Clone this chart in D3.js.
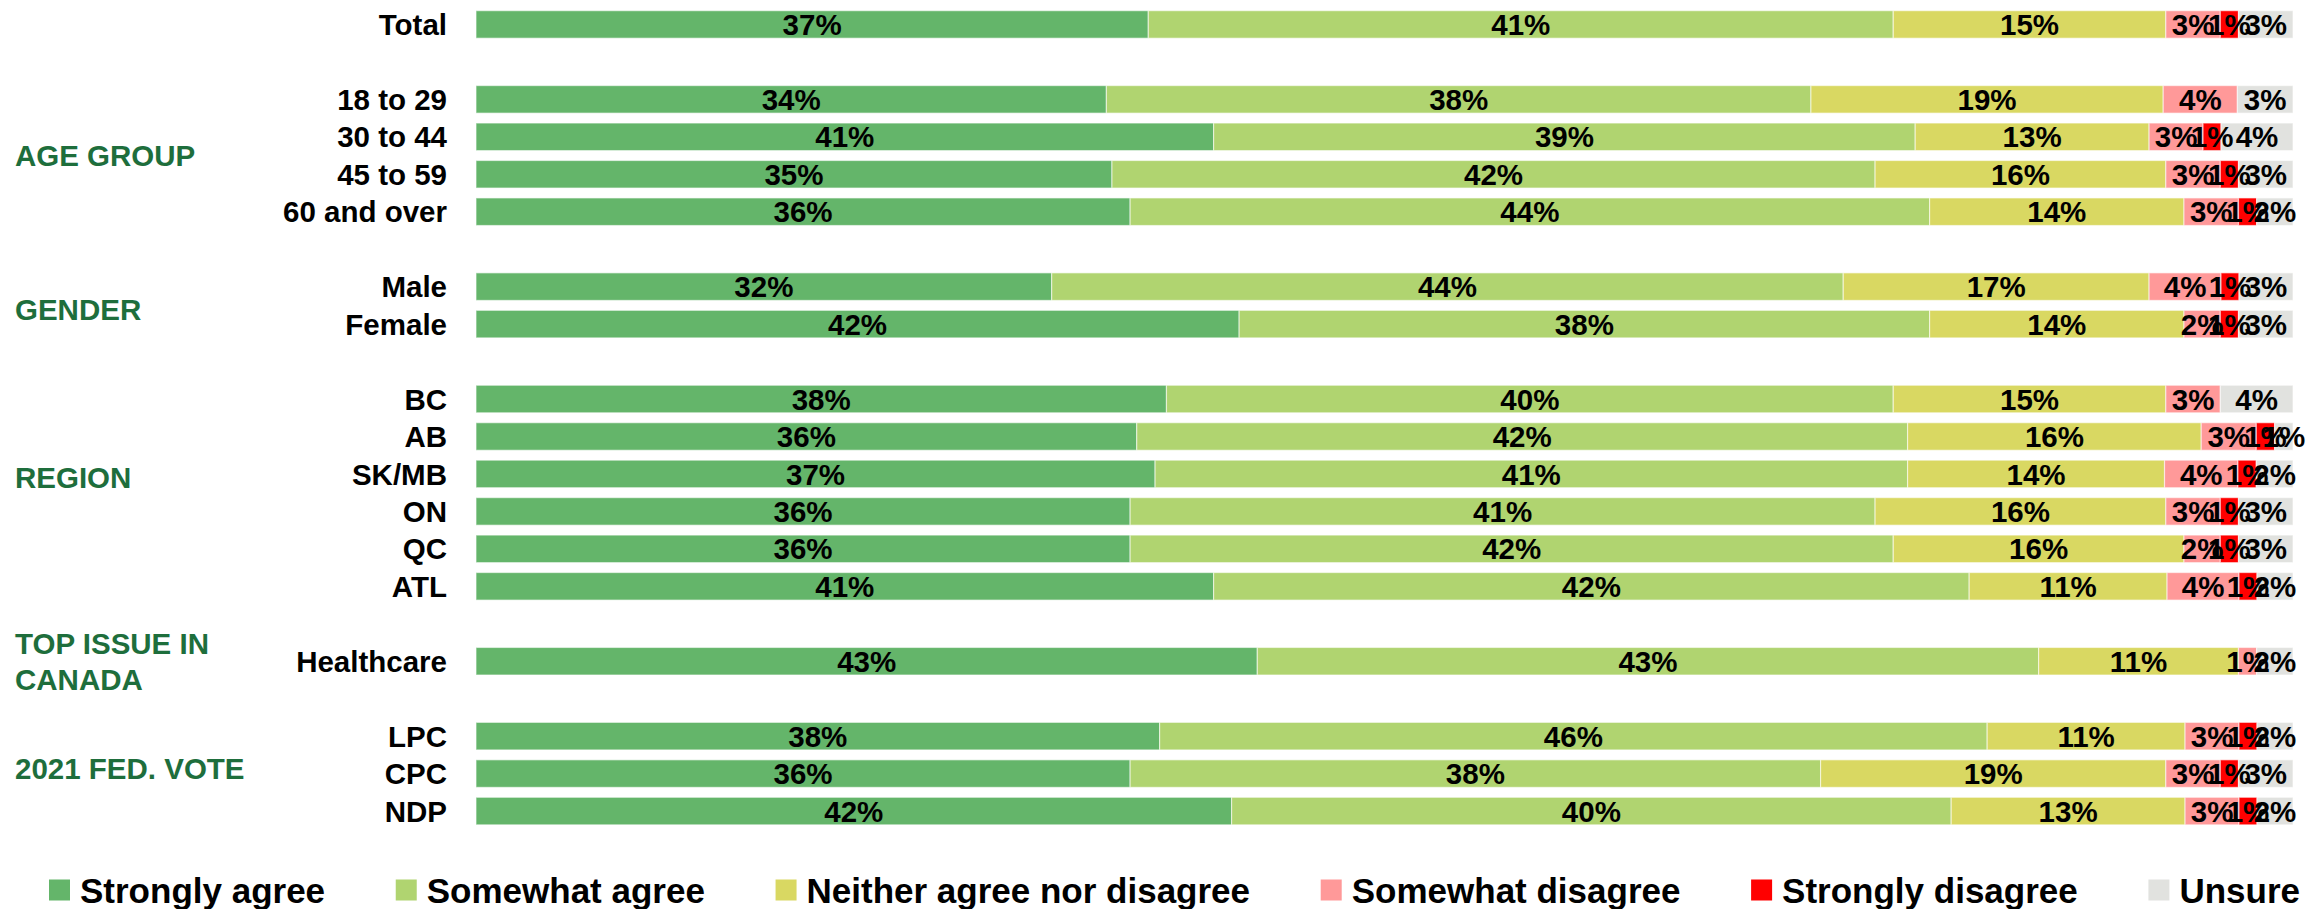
<!DOCTYPE html>
<html><head><meta charset="utf-8">
<script src="https://cdn.jsdelivr.net/npm/d3@7"></script>
<style>body{margin:0;background:#fff}svg{display:block}</style>
</head><body>
<svg id="chart" width="2321" height="909"></svg>
<script>
// ---- data ----
const seriesNames = ["Strongly agree","Somewhat agree","Neither agree nor disagree","Somewhat disagree","Strongly disagree","Unsure"];
const seriesColors = ["#64B56A","#B0D470","#D9D862","#FF9999","#FF0000","#E1E2DF"];
// rows in display order; null = spacer slot
const rowLabels = ["Total",null,"18 to 29","30 to 44","45 to 59","60 and over",null,"Male","Female",null,"BC","AB","SK/MB","ON","QC","ATL",null,"Healthcare",null,"LPC","CPC","NDP"];
const stronglyAgree   = [37,null,34,41,35,36,null,32,42,null,38,36,37,36,36,41,null,43,null,38,36,42];
const somewhatAgree   = [41,null,38,39,42,44,null,44,38,null,40,42,41,41,42,42,null,43,null,46,38,40];
const neither         = [15,null,19,13,16,14,null,17,14,null,15,16,14,16,16,11,null,11,null,11,19,13];
const somewhatDisagree= [3,null,4,3,3,3,null,4,2,null,3,3,4,3,2,4,null,1,null,3,3,3];
const stronglyDisagree= [1,null,0,1,1,1,null,1,1,null,0,1,1,1,1,1,null,0,null,1,1,1];
const unsure          = [3,null,3,4,3,2,null,3,3,null,4,1,2,3,3,2,null,2,null,2,3,2];
const groupLabels = [
  {lines:["AGE GROUP"], anchor:3.5},
  {lines:["GENDER"], anchor:7.6},
  {lines:["REGION"], anchor:12.1},
  {lines:["TOP ISSUE IN","CANADA"], anchor:17},
  {lines:["2021 FED. VOTE"], anchor:19.85}
];

// ---- layout ----
const svg = d3.select("#chart");
const FONT = "'Liberation Sans', Arial, sans-serif";
const x0 = 476, x1 = 2293;
const slots = d3.range(rowLabels.length);
const y = d3.scaleBand().domain(slots).range([5.8, 5.8 + 37.45*rowLabels.length]).paddingInner(0.265).paddingOuter(0.13);
const x = d3.scaleLinear().domain([0,1]).range([x0, x1]);
const color = d3.scaleOrdinal().domain(seriesNames).range(seriesColors);

const seriesArrays = [stronglyAgree, somewhatAgree, neither, somewhatDisagree, stronglyDisagree, unsure];
const table = slots.filter(i => rowLabels[i] !== null).map(i => {
  const o = {slot:i, label:rowLabels[i]};
  seriesNames.forEach((s,k) => o[s] = seriesArrays[k][i]);
  return o;
});
const stack = d3.stack().keys(seriesNames).offset(d3.stackOffsetExpand);
const stacked = stack(table);

const g = svg.append("g");
const layers = g.selectAll("g.layer").data(stacked).join("g").attr("class","layer")
  .attr("fill", d => color(d.key));
layers.selectAll("rect").data(d => d.filter(p => p.data[d.key] > 0)).join("rect")
  .attr("x", d => x(d[0]))
  .attr("y", d => y(d.data.slot))
  .attr("width", d => x(d[1]) - x(d[0]))
  .attr("height", y.bandwidth())
  .attr("stroke", "#fff").attr("stroke-opacity", 0.55).attr("stroke-width", 1.2);

// value labels
const labG = svg.append("g");
stacked.forEach(layer => {
  layer.forEach(p => {
    const v = p.data[layer.key];
    if (!(v > 0)) return;
    labG.append("text")
      .attr("x", (x(p[0]) + x(p[1]))/2)
      .attr("y", y(p.data.slot) + y.bandwidth()/2)
      .attr("dy", "0.36em")
      .attr("text-anchor","middle")
      .attr("font-family", FONT).attr("font-weight", "bold").attr("font-size", 29.5)
      .attr("fill", "#000")
      .text(v + "%");
  });
});

// category labels
svg.append("g").selectAll("text").data(table).join("text")
  .attr("x", 447)
  .attr("y", d => y(d.slot) + y.bandwidth()/2)
  .attr("dy","0.36em")
  .attr("text-anchor","end")
  .attr("font-family", FONT).attr("font-weight","bold").attr("font-size", 29.5)
  .attr("fill","#000")
  .text(d => d.label);

// group labels
const step = y.step();
const slotCenter = s => y(0) + y.bandwidth()/2 + s*step;
groupLabels.forEach(gl => {
  const n = gl.lines.length;
  const lh = 36;
  gl.lines.forEach((line, i) => {
    svg.append("text")
      .attr("x", 15)
      .attr("y", slotCenter(gl.anchor) + (i - (n-1)/2)*lh)
      .attr("dy","0.36em")
      .attr("font-family", FONT).attr("font-weight","bold").attr("font-size", 29.5)
      .attr("fill","#1E6E3C")
      .text(line);
  });
});

// legend
const leg = svg.append("g");
const legY = 890, sq = 21, legFont = 35;
let cx = 49;
const items = [];
seriesNames.forEach((s) => {
  const it = leg.append("g");
  it.append("rect").attr("x", 0).attr("y", -sq/2).attr("width", sq).attr("height", sq).attr("fill", color(s));
  const t = it.append("text").attr("x", sq + 10).attr("y", 0).attr("dy","0.36em")
    .attr("font-family", FONT).attr("font-weight","bold").attr("font-size", legFont).attr("fill","#000").text(s);
  items.push({g:it, w: sq + 10 + t.node().getComputedTextLength()});
});
const totalW = d3.sum(items, d => d.w);
const gap = (2300 - 49 - totalW) / (items.length - 1);
items.forEach(it => { it.g.attr("transform", `translate(${cx},${legY})`); cx += it.w + gap; });
</script>
</body></html>
